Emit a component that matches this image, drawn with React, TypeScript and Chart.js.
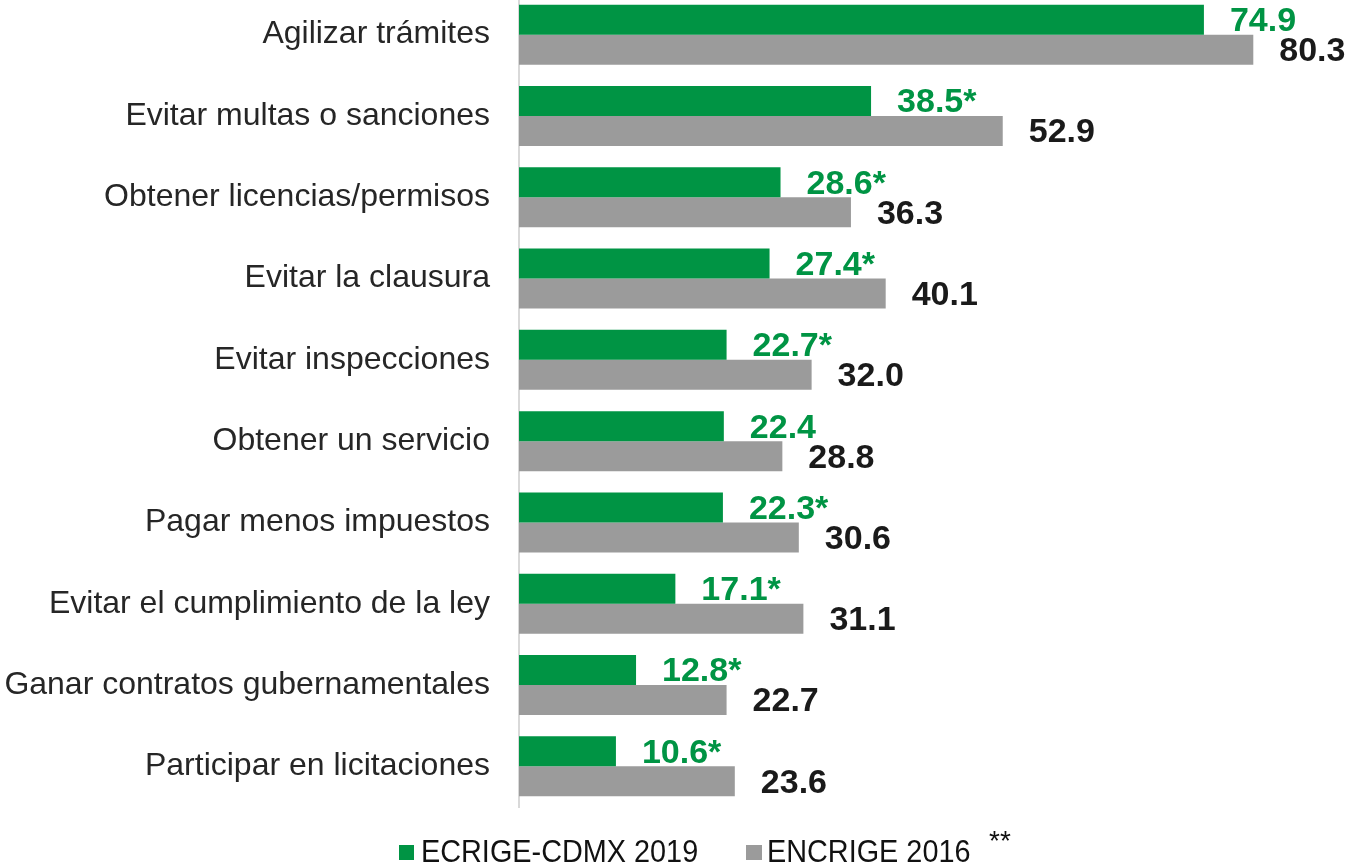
import React, { useEffect, useRef } from "react";
import { Chart, registerables } from "chart.js";

Chart.register(...registerables);

const categories = [
  "Agilizar trámites",
  "Evitar multas o sanciones",
  "Obtener licencias/permisos",
  "Evitar la clausura",
  "Evitar inspecciones",
  "Obtener un servicio",
  "Pagar menos impuestos",
  "Evitar el cumplimiento de la ley",
  "Ganar contratos gubernamentales",
  "Participar en licitaciones",
];

const values2019 = [74.9, 38.5, 28.6, 27.4, 22.7, 22.4, 22.3, 17.1, 12.8, 10.6];
const values2016 = [80.3, 52.9, 36.3, 40.1, 32.0, 28.8, 30.6, 31.1, 22.7, 23.6];
const significant2019 = [false, true, true, true, true, false, true, true, true, true];

const series1Name = "ECRIGE-CDMX 2019";
const series2Name = "ENCRIGE 2016";
const legendNote = "**";

const GREEN = "#009444";
const GRAY = "#9b9b9b";
const FONT = "'Liberation Sans', Arial, Helvetica, sans-serif";

const valueLabelPlugin = {
  id: "valueLabels",
  afterDatasetsDraw(chart: any) {
    const ctx = chart.ctx;
    ctx.save();
    ctx.font = `bold 34px ${FONT}`;
    ctx.textAlign = "left";
    ctx.textBaseline = "middle";
    chart.data.datasets.forEach((ds: any, di: number) => {
      const meta = chart.getDatasetMeta(di);
      meta.data.forEach((bar: any, i: number) => {
        const v = ds.data[i] as number;
        let txt = v.toFixed(1);
        if (di === 0 && significant2019[i]) txt += "*";
        ctx.fillStyle = di === 0 ? GREEN : "#1a1a1a";
        ctx.fillText(txt, bar.x + 26, bar.y + 2);
      });
    });
    ctx.restore();
  },
};

export default function App() {
  const canvasRef = useRef<HTMLCanvasElement | null>(null);

  useEffect(() => {
    if (!canvasRef.current) return;
    const chart = new Chart(canvasRef.current, {
      type: "bar",
      data: {
        labels: categories,
        datasets: [
          {
            label: series1Name,
            data: values2019,
            backgroundColor: GREEN,
            categoryPercentage: 0.738,
            barPercentage: 1,
          },
          {
            label: series2Name,
            data: values2016,
            backgroundColor: GRAY,
            categoryPercentage: 0.738,
            barPercentage: 1,
          },
        ],
      },
      options: {
        indexAxis: "y",
        animation: false,
        responsive: false,
        maintainAspectRatio: false,
        layout: { padding: { left: 0, right: 8, top: 0, bottom: 58 } },
        plugins: {
          legend: { display: false },
          tooltip: { enabled: false },
        },
        scales: {
          x: {
            display: false,
            min: 0,
            max: 90,
          },
          y: {
            grid: { display: false, drawTicks: false },
            border: { display: true, color: "#d9d9d9", width: 2 },
            ticks: {
              color: "#262626",
              padding: 29,
              font: { family: FONT, size: 32 },
            },
            afterFit(scale: any) {
              scale.width = 519;
              scale.paddingTop = 0;
              scale.paddingBottom = 0;
            },
          },
        },
      },
      plugins: [valueLabelPlugin],
    });
    return () => chart.destroy();
  }, []);

  const legendText: React.CSSProperties = {
    position: "absolute",
    fontFamily: FONT,
    fontSize: 31,
    lineHeight: "31px",
    color: "#111",
    whiteSpace: "nowrap",
    transform: "scaleX(0.93)",
    transformOrigin: "left center",
  };

  return (
    <div style={{ position: "absolute", left: 0, top: 0, width: 1350, height: 865, overflow: "hidden", background: "#fff" }}>
      <div style={{ position: "absolute", left: 0, top: -6, width: 1350, height: 871 }}>
        <canvas ref={canvasRef} width={1350} height={871} style={{ width: 1350, height: 871, display: "block" }} />
      </div>
      <div style={{ position: "absolute", left: 399, top: 845, width: 15, height: 15, background: GREEN }} />
      <span style={{ ...legendText, left: 421, top: 836 }}>{series1Name}</span>
      <div style={{ position: "absolute", left: 746, top: 845, width: 16, height: 15, background: GRAY }} />
      <span style={{ ...legendText, left: 767, top: 836 }}>{series2Name}</span>
      <span style={{ position: "absolute", left: 989, top: 827, fontFamily: FONT, fontSize: 28, lineHeight: "28px", color: "#111" }}>{legendNote}</span>
    </div>
  );
}
